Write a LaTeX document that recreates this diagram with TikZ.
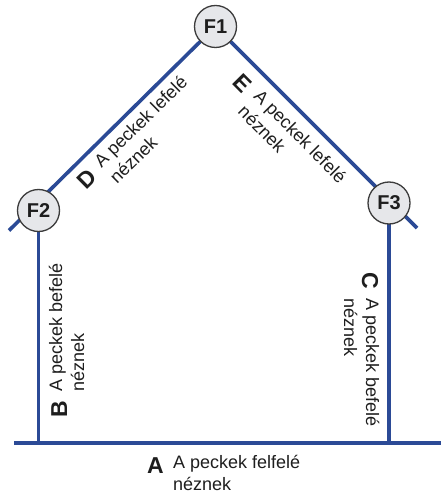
\documentclass[tikz,border=0pt]{standalone}
\usepackage{fontspec}
\setmainfont{Liberation Sans}
\usetikzlibrary{backgrounds}
\definecolor{wallblue}{RGB}{43,74,150}
\definecolor{circfill}{RGB}{230,231,234}
\definecolor{circline}{RGB}{60,60,60}
\definecolor{txt}{RGB}{30,30,30}
\begin{document}
\begin{tikzpicture}[x=1pt,y=-1pt,
  wall/.style={draw=wallblue,line width=3.6pt},
  corner/.style={circle,draw=circline,line width=1.3pt,fill=circfill,minimum size=42pt,inner sep=0pt,
    font=\fontsize{20}{24}\selectfont\bfseries,text=txt},
  letter/.style={inner sep=0pt,font=\fontsize{23}{24}\selectfont\bfseries,text=txt,anchor=base east},
  note/.style={inner sep=0pt,font=\fontsize{18}{22}\selectfont,text=txt,anchor=base west}]
\useasboundingbox (0,0) rectangle (441,494);

% corner circles
\node[corner] (F1) at (215.5,26.5) {F1};
\node[corner] (F2) at (38.5,210.5) {F2};
\node[corner] (F3) at (389,203) {F3};

% free line ends
\coordinate (Lend) at (9,230.5);
\coordinate (Rend) at (417,228);
\coordinate (BL) at (14,443);
\coordinate (BR) at (441,443);

\begin{scope}[on background layer]
  \fill[white] (0,0) rectangle (441,494);
  \draw[wall] (Lend) -- (F1.center) -- (Rend);
  \draw[wall] (BL) -- (BR);
  \draw[wall] (F2.center) -- (F2.center |- BL);
  \draw[wall] (F3.center) -- (F3.center |- BR);
\end{scope}

% labels
\node[note] (tA) at (173,468) {\begin{tabular}[t]{@{}l@{}}A peckek felfelé\\néznek\end{tabular}};
\node[letter] (lA) at (164,473) {A};

\node[note,rotate=90] (tB) at (62,392) {\begin{tabular}[t]{@{}l@{}}A peckek befelé\\néznek\end{tabular}};
\node[letter,rotate=90] (lB) at (67,401) {B};

\node[note,rotate=-90] (tC) at (366,298) {\begin{tabular}[t]{@{}l@{}}A peckek befelé\\néznek\end{tabular}};
\node[letter,rotate=-90] (lC) at (362,289) {C};

\node[note,rotate=44.6] (tD) at (101.5,169) {\begin{tabular}[t]{@{}l@{}}A peckek lefelé\\néznek\end{tabular}};
\node[letter,rotate=44.6] (lD) at (98,178.5) {D};

\node[note,rotate=-45.3] (tE) at (252.7,97.3) {\begin{tabular}[t]{@{}l@{}}A peckek lefelé\\néznek\end{tabular}};
\node[letter,rotate=-45.3] (lE) at (242.8,94.4) {E};
\end{tikzpicture}
\end{document}
